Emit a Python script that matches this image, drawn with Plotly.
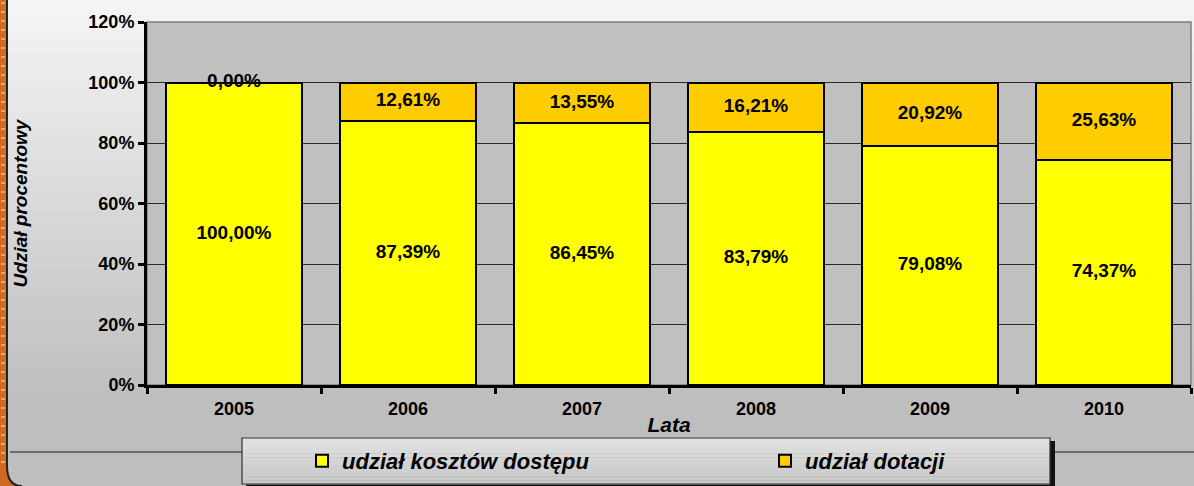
import plotly.graph_objects as go

# ---- data ----
years = ["2005", "2006", "2007", "2008", "2009", "2010"]
udzial_kosztow = [100.00, 87.39, 86.45, 83.79, 79.08, 74.37]
udzial_dotacji = [0.00, 12.61, 13.55, 16.21, 20.92, 25.63]
series_names = ["udział kosztów dostępu", "udział dotacji"]
y_ticks = [0, 20, 40, 60, 80, 100, 120]

W, H = 1194, 486
L, R, T, B = 147, 3, 22, 101
PW, PH = W - L - R, H - T - B

def px(x):
    return (x - L) / PW

def py(y):
    return (H - B - y) / PH

FONT = "Arial, Liberation Sans, sans-serif"
YELLOW = "#FFFF00"
ORANGE = "#FFCC00"

def fmt(v):
    return f"{v:.2f}".replace(".", ",") + "%"

kosztow = [v / 100 for v in udzial_kosztow]
dotacji = [v / 100 for v in udzial_dotacji]

fig = go.Figure()
fig.add_trace(go.Bar(x=years, y=kosztow, name=series_names[0],
                     marker=dict(color=YELLOW, line=dict(color="black", width=2))))
fig.add_trace(go.Bar(x=years, y=dotacji, name=series_names[1],
                     marker=dict(color=ORANGE, line=dict(color="black", width=2))))

label_font = dict(family=FONT, size=19, color="black", weight="bold")
fig.add_trace(go.Scatter(x=years, y=[k / 2 for k in kosztow], mode="text",
                         text=[fmt(v) for v in udzial_kosztow], textfont=label_font,
                         showlegend=False, hoverinfo="skip", cliponaxis=False))
fig.add_trace(go.Scatter(x=years, y=[k + d / 2 for k, d in zip(kosztow, dotacji)], mode="text",
                         text=[fmt(v) for v in udzial_dotacji], textfont=label_font,
                         showlegend=False, hoverinfo="skip", cliponaxis=False))

shapes = []
# background gradient
n = 40
top_c, bot_c = (0xF5, 0xF5, 0xF5), (0xBE, 0xBE, 0xBE)
for i in range(n):
    y0 = 400 * i / n
    y1 = 400 * (i + 1) / n
    t = (i + 0.5) / n
    c = tuple(int(round(a + (b - a) * t)) for a, b in zip(top_c, bot_c))
    shapes.append(dict(type="rect", xref="paper", yref="paper", layer="below",
                       x0=px(0), x1=px(W), y0=py(y1 + 0.5), y1=py(y0),
                       fillcolor="rgb(%d,%d,%d)" % c, line=dict(width=0)))
shapes.append(dict(type="rect", xref="paper", yref="paper", layer="below",
                   x0=px(0), x1=px(W), y0=py(H), y1=py(400),
                   fillcolor="#BEBEBE", line=dict(width=0)))
# plot area fill
shapes.append(dict(type="rect", xref="paper", yref="paper", layer="below",
                   x0=0, x1=1, y0=0, y1=1, fillcolor="#C0C0C0",
                   line=dict(color="#808080", width=1.5)))
# horizontal line near the bottom
shapes.append(dict(type="line", xref="paper", yref="paper", layer="below",
                   x0=px(10), x1=px(W), y0=py(452), y1=py(452),
                   line=dict(color="#1a1a1a", width=1.2)))
# left orange strip
shapes.append(dict(type="rect", xref="paper", yref="paper", layer="above",
                   x0=px(0), x1=px(7), y0=py(H), y1=py(0),
                   fillcolor="#D06A20", line=dict(width=0)))
for k in range(0, H, 9):
    shapes.append(dict(type="line", xref="paper", yref="paper", layer="above",
                       x0=px(1), x1=px(5), y0=py(k + 3), y1=py(k + 3),
                       line=dict(color="#E9A673", width=2)))
# bottom-left rounded corner of the frame
x7, x22 = px(7), px(22)
shapes.append(dict(type="path", xref="paper", yref="paper", layer="above",
                   path=f"M {px(0)},{py(H)} L {px(0)},{py(466)} L {x7},{py(466)} "
                        f"Q {x7},{py(H)} {x22},{py(H)} Z",
                   fillcolor="#D06A20", line=dict(width=0)))
shapes.append(dict(type="path", xref="paper", yref="paper", layer="above",
                   path=f"M {x7},{py(0)} L {x7},{py(466)} Q {x7},{py(H)} {x22},{py(H)}",
                   line=dict(color="#222222", width=2)))
# legend box: shadow, gradient body, border
shapes.append(dict(type="rect", xref="paper", yref="paper", layer="above",
                   x0=px(246), x1=px(1055), y0=py(H + 5), y1=py(441),
                   fillcolor="#111111", line=dict(width=0)))
m = 12
lt, lb = (0xE2, 0xE2, 0xE2), (0xC6, 0xC6, 0xC6)
for i in range(m):
    y0 = 438 + 46 * i / m
    y1 = 438 + 46 * (i + 1) / m
    t = (i + 0.5) / m
    c = tuple(int(round(a + (b - a) * t)) for a, b in zip(lt, lb))
    shapes.append(dict(type="rect", xref="paper", yref="paper", layer="above",
                       x0=px(242), x1=px(1050), y0=py(y1 + 0.5), y1=py(y0),
                       fillcolor="rgb(%d,%d,%d)" % c, line=dict(width=0)))
shapes.append(dict(type="rect", xref="paper", yref="paper", layer="above",
                   x0=px(242), x1=px(1050), y0=py(484), y1=py(438),
                   line=dict(color="#333333", width=1.2)))

fig.update_layout(
    width=W, height=H,
    margin=dict(l=L, r=R, t=T, b=B, autoexpand=False),
    barmode="stack", bargap=0.22,
    paper_bgcolor="#BEBEBE", plot_bgcolor="rgba(0,0,0,0)",
    font=dict(family=FONT, color="black"),
    showlegend=True,
    legend=dict(orientation="h", x=px(302), y=py(461), xanchor="left", yanchor="middle",
                bgcolor="rgba(0,0,0,0)", borderwidth=0,
                entrywidth=418, entrywidthmode="pixels", traceorder="normal",
                font=dict(family=FONT, size=22, color="black", weight="bold", style="italic")),
    shapes=shapes,
    xaxis=dict(
        type="category", showline=True, linecolor="black", linewidth=3,
        ticks="outside", tickson="boundaries", ticklen=6, tickwidth=3, tickcolor="black",
        tickfont=dict(family=FONT, size=18, weight="bold"), ticklabelstandoff=5,
        showgrid=False, automargin=False,
        title=dict(text="Lata", standoff=0,
                   font=dict(family=FONT, size=21, weight="bold", style="italic")),
    ),
    yaxis=dict(
        range=[0, 1.2], tickvals=[v / 100 for v in y_ticks],
        ticktext=[f"{v}%" for v in y_ticks],
        showline=True, linecolor="black", linewidth=3,
        ticks="outside", ticklen=6, tickwidth=3, tickcolor="black",
        tickfont=dict(family=FONT, size=18, weight="bold"),
        showgrid=True, gridcolor="#2a2a2a", gridwidth=1, zeroline=False,
        automargin=False,
        title=dict(text="Udział procentowy", standoff=56,
                   font=dict(family=FONT, size=19, weight="bold", style="italic")),
    ),
)

fig.write_html("out.html", config={"displayModeBar": False},
               post_script="document.body.style.margin='0';")
